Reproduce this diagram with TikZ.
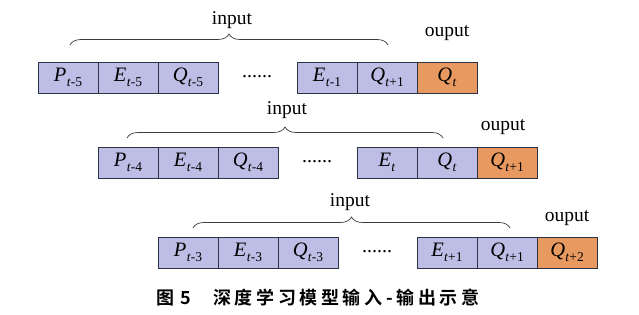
\documentclass[tikz,border=0pt]{standalone}
\usepackage{fontspec}
\setmainfont{Liberation Serif}
\newfontfamily\cjkfont[LetterSpace=20,BoldFont={Noto Sans CJK SC Bold}]{Noto Sans CJK SC}
\usetikzlibrary{decorations.pathreplacing}
\definecolor{boxblue}{RGB}{189,189,230}
\definecolor{boxorange}{RGB}{232,153,95}
\definecolor{boxline}{RGB}{43,52,69}
\definecolor{bracecol}{RGB}{60,60,60}
\newcommand{\lab}[2]{\textit{#1}\kern0.3pt\raisebox{-5pt}{\fontsize{13.5}{13.5}\selectfont #2}}
\tikzset{
  cell/.style={draw=boxline, line width=0.8pt, fill=boxblue, minimum width=60pt, minimum height=31pt, inner sep=0pt, font=\fontsize{20.5}{20.5}\selectfont},
  outcell/.style={cell, fill=boxorange},
  dotsnode/.style={font=\fontsize{20}{20}\selectfont, inner sep=0pt},
  inlab/.style={font=\fontsize{19.5}{20}\selectfont, inner sep=0pt},
  bracepath/.style={draw=bracecol, line width=0.7pt, decorate, decoration={brace, amplitude=11pt}}
}
\begin{document}
\begin{tikzpicture}[x=1pt,y=1pt]
\useasboundingbox (0,0) rectangle (639,315);
% Row 1
\node[cell] (a1) at (68,237.5) {\lab{P}{\textit{t}-5}};
\node[cell] (a2) at (128,237.5) {\lab{E}{\textit{t}-5}};
\node[cell] (a3) at (188,237.5) {\lab{Q}{\textit{t}-5}};
\node[dotsnode] (a4) at (257,238) {......};
\node[cell] (a5) at (327,237.5) {\lab{E}{\textit{t}-1}};
\node[cell] (a6) at (387,237.5) {\lab{Q}{\textit{t}+1}};
\node[outcell] (a7) at (447,237.5) {\lab{Q}{\textit{t}}};
\coordinate (b1l) at (70,270);
\coordinate (b1r) at (388,270);
\draw[bracepath] (b1l) -- (b1r);
\node[inlab] (i1) at (232,295) {input};
\node[inlab] (o1) at (447,282) {ouput};
% Row 2
\node[cell] (c1) at (128,152.5) {\lab{P}{\textit{t}-4}};
\node[cell] (c2) at (188,152.5) {\lab{E}{\textit{t}-4}};
\node[cell] (c3) at (248,152.5) {\lab{Q}{\textit{t}-4}};
\node[dotsnode] (c4) at (317,153) {......};
\node[cell] (c5) at (387,152.5) {\lab{E}{\textit{t}}};
\node[cell] (c6) at (447,152.5) {\lab{Q}{\textit{t}}};
\node[outcell] (c7) at (507,152.5) {\lab{Q}{\textit{t}+1}};
\coordinate (b2l) at (127,177);
\coordinate (b2r) at (443,177);
\draw[bracepath] (b2l) -- (b2r);
\node[inlab] (i2) at (287,205) {input};
\node[inlab] (o2) at (503,188) {ouput};
% Row 3
\node[cell] (d1) at (188,62.5) {\lab{P}{\textit{t}-3}};
\node[cell] (d2) at (248,62.5) {\lab{E}{\textit{t}-3}};
\node[cell] (d3) at (308,62.5) {\lab{Q}{\textit{t}-3}};
\node[dotsnode] (d4) at (377,63) {......};
\node[cell] (d5) at (447,62.5) {\lab{E}{\textit{t}+1}};
\node[cell] (d6) at (507,62.5) {\lab{Q}{\textit{t}+1}};
\node[outcell] (d7) at (567,62.5) {\lab{Q}{\textit{t}+2}};
\coordinate (b3l) at (193,87);
\coordinate (b3r) at (510,87);
\draw[bracepath] (b3l) -- (b3r);
\node[inlab] (i3) at (350,113) {input};
\node[inlab] (o3) at (567,97) {ouput};
% caption
\node[inner sep=0pt, font=\cjkfont\bfseries\fontsize{18}{18}\selectfont] (cap) at (318,17) {图\hspace{6pt}5\hspace{22pt}深度学习模型输入-输出示意};
\end{tikzpicture}
\end{document}
